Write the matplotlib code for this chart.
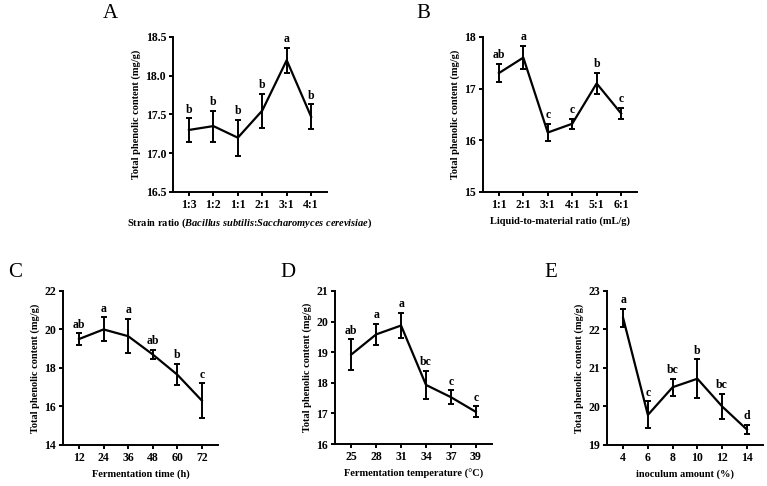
import matplotlib
matplotlib.use("Agg")
import matplotlib.pyplot as plt

plt.rcParams['font.family'] = ['Liberation Serif', 'DejaVu Serif']
plt.rcParams['font.weight'] = 'bold'
plt.rcParams['mathtext.fontset'] = 'custom'
plt.rcParams['mathtext.rm'] = 'Liberation Serif:bold'
plt.rcParams['mathtext.it'] = 'Liberation Serif:italic:bold'

# A: strain ratio
a_labels = ["1:3", "1:2", "1:1", "2:1", "3:1", "4:1"]
a_mean = [17.30, 17.35, 17.20, 17.55, 18.20, 17.47]
a_err = [0.15, 0.20, 0.23, 0.22, 0.16, 0.16]
a_sig = ["b", "b", "b", "b", "a", "b"]

# B: liquid-to-material ratio
b_labels = ["1:1", "2:1", "3:1", "4:1", "5:1", "6:1"]
b_mean = [17.30, 17.60, 16.15, 16.32, 17.10, 16.52]
b_err = [0.18, 0.22, 0.17, 0.10, 0.20, 0.10]
b_sig = ["ab", "a", "c", "c", "b", "c"]

# C: fermentation time
c_labels = ["12", "24", "36", "48", "60", "72"]
c_mean = [19.50, 20.00, 19.65, 18.70, 17.65, 16.30]
c_err = [0.30, 0.62, 0.88, 0.25, 0.55, 0.90]
c_sig = ["ab", "a", "a", "ab", "b", "c"]

# D: fermentation temperature
d_labels = ["25", "28", "31", "34", "37", "39"]
d_mean = [18.92, 19.58, 19.87, 17.93, 17.53, 17.05]
d_err = [0.50, 0.35, 0.40, 0.47, 0.22, 0.18]
d_sig = ["ab", "a", "a", "bc", "c", "c"]

# E: inoculum amount
e_labels = ["4", "6", "8", "10", "12", "14"]
e_mean = [22.30, 19.78, 20.50, 20.72, 20.00, 19.40]
e_err = [0.23, 0.35, 0.22, 0.50, 0.33, 0.12]
e_sig = ["a", "c", "bc", "b", "bc", "d"]

ylabel = "Total phenolic content (mg/g)"

panels = [
    # letter, rect, letter pos, labels, mean, err, sig, ylim, yticks, yfmt, xlabel
    ("A", [0.2256, 0.605, 0.2008, 0.319], (0.134, 0.973), a_labels, a_mean, a_err, a_sig,
     (16.5, 18.5), [16.5, 17.0, 17.5, 18.0, 18.5], "%.1f",
     r"Strain ratio ($\it{Bacillus\ subtilis}$:$\it{Saccharomyces\ cerevisiae}$)"),
    ("B", [0.6297, 0.605, 0.2008, 0.319], (0.543, 0.973), b_labels, b_mean, b_err, b_sig,
     (15, 18), [15, 16, 17, 18], "%d", "Liquid-to-material ratio (mL/g)"),
    ("C", [0.0821, 0.0844, 0.2020, 0.317], (0.010, 0.44), c_labels, c_mean, c_err, c_sig,
     (14, 22), [14, 16, 18, 20, 22], "%d", "Fermentation time (h)"),
    ("D", [0.4368, 0.0864, 0.2047, 0.315], (0.365, 0.44), d_labels, d_mean, d_err, d_sig,
     (16, 21), [16, 17, 18, 19, 20, 21], "%d", "Fermentation temperature (°C)"),
    ("E", [0.7914, 0.0844, 0.2034, 0.317], (0.710, 0.44), e_labels, e_mean, e_err, e_sig,
     (19, 23), [19, 20, 21, 22, 23], "%d", "inoculum amount (%)"),
]

fig = plt.figure(figsize=(7.67, 4.86), dpi=100)

for letter, rect, lpos, labels, mean, err, sig, ylim, yticks, yfmt, xlabel in panels:
    ax = fig.add_axes(rect)
    x = list(range(len(labels)))
    ax.errorbar(x, mean, yerr=err, color="black", linewidth=1.6,
                elinewidth=1.4, capsize=2.5, capthick=1.4)
    for xi, m, e, s in zip(x, mean, err, sig):
        ax.annotate(s, (xi, m + e), xytext=(0, 2), textcoords="offset points",
                    ha="center", va="bottom", fontsize=8.5, fontweight="bold")
    ax.set_xlim(-0.65, len(labels) - 0.35)
    ax.set_ylim(*ylim)
    ax.set_yticks(yticks)
    ax.set_yticklabels([yfmt % t for t in yticks])
    ax.set_xticks(x)
    ax.set_xticklabels(labels)
    for side in ["top", "right"]:
        ax.spines[side].set_visible(False)
    for side in ["left", "bottom"]:
        ax.spines[side].set_linewidth(1.4)
    ax.tick_params(axis="both", width=1.4, length=3, labelsize=8.5, pad=2)
    ax.set_ylabel(ylabel, fontsize=7.5, fontweight="bold", labelpad=3)
    ax.set_xlabel(xlabel, fontsize=7.5, fontweight="bold", labelpad=4)
    fig.text(lpos[0], lpos[1], letter, fontsize=15, fontweight="normal",
             ha="left", va="center")

fig.savefig("out.png", dpi=100)
